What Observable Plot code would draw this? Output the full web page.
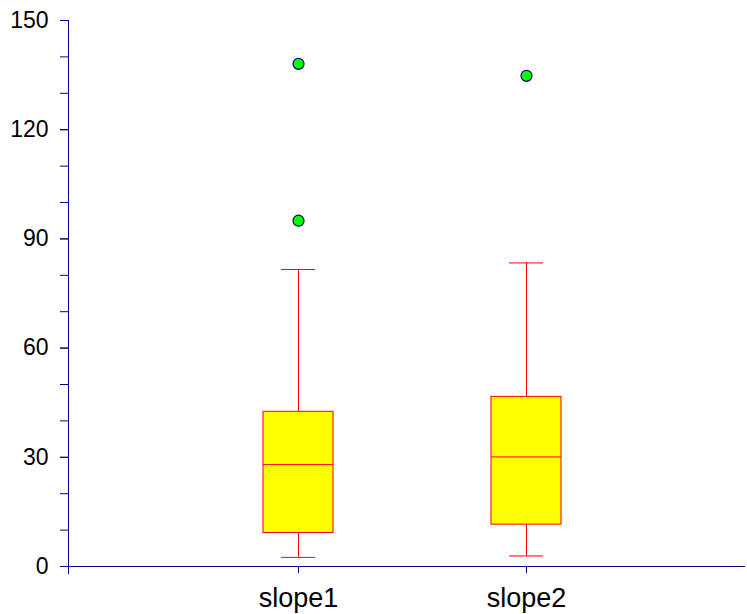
<!DOCTYPE html>
<html>
<head>
<meta charset="utf-8">
<script src="https://cdn.jsdelivr.net/npm/d3@7"></script>
<script src="https://cdn.jsdelivr.net/npm/@observablehq/plot@0.6"></script>
<style>
  html, body { margin: 0; padding: 0; background: white; }
</style>
</head>
<body>
<div id="chart"></div>
<script>
const categories = ["slope1", "slope2"];
const whiskerLow = [2.5, 2.9];
const q1 = [9.2, 11.5];
const median = [28.0, 30.1];
const q3 = [42.5, 46.6];
const whiskerHigh = [81.6, 83.4];
const outlierCats = ["slope1", "slope1", "slope2"];
const outlierValues = [138.1, 95.0, 134.8];
const yTicks = [0, 30, 60, 90, 120, 150];
const yMinorTicks = d3.range(0, 151, 10);

const stats = categories.map((c, i) => ({
  cat: c, lo: whiskerLow[i], q1: q1[i], med: median[i], q3: q3[i], hi: whiskerHigh[i]
}));
const outliers = outlierCats.map((c, i) => ({cat: c, value: outlierValues[i]}));

const navy = "#000080";
const red = "#ff0000";

const chart = Plot.plot({
  width: 747,
  height: 614,
  marginLeft: 68,
  marginRight: 2,
  marginTop: 20,
  marginBottom: 48,
  style: {fontFamily: "'Liberation Sans', Arial, sans-serif", background: "white", color: "black", overflow: "visible"},
  x: {type: "band", domain: categories, range: [262, 561], paddingInner: 0.694, paddingOuter: 0, label: null},
  y: {domain: [0, 150], label: null},
  marks: [
    Plot.axisY({ticks: yMinorTicks, tickSize: 8, text: null, stroke: navy, label: null}),
    Plot.axisY({ticks: yTicks, tickSize: 8, tickPadding: 12, fontSize: 23, stroke: navy, fill: "black", label: null}),
    Plot.axisX({tickSize: 7, tickPadding: 14.5, fontSize: 27, stroke: navy, fill: "black", label: null}),
    Plot.frame({anchor: "left", stroke: navy, insetBottom: -7}),
    Plot.ruleY([0], {stroke: navy}),
    Plot.ruleX(stats, {x: "cat", y1: "lo", y2: "q1", stroke: red}),
    Plot.ruleX(stats, {x: "cat", y1: "q3", y2: "hi", stroke: red}),
    Plot.tickY(stats, {x: "cat", y: "lo", stroke: red, insetLeft: 18, insetRight: 18}),
    Plot.tickY(stats, {x: "cat", y: "hi", stroke: red, insetLeft: 18, insetRight: 18}),
    Plot.barY(stats, {x: "cat", y1: "q1", y2: "q3", fill: "#ffff00", stroke: red, strokeWidth: 1}),
    Plot.tickY(stats, {x: "cat", y: "med", stroke: red}),
    Plot.dot(outliers, {x: "cat", y: "value", r: 5.5, fill: "#00ff00", stroke: navy, strokeWidth: 1.2})
  ]
});
document.getElementById("chart").appendChild(chart);
</script>
</body>
</html>
